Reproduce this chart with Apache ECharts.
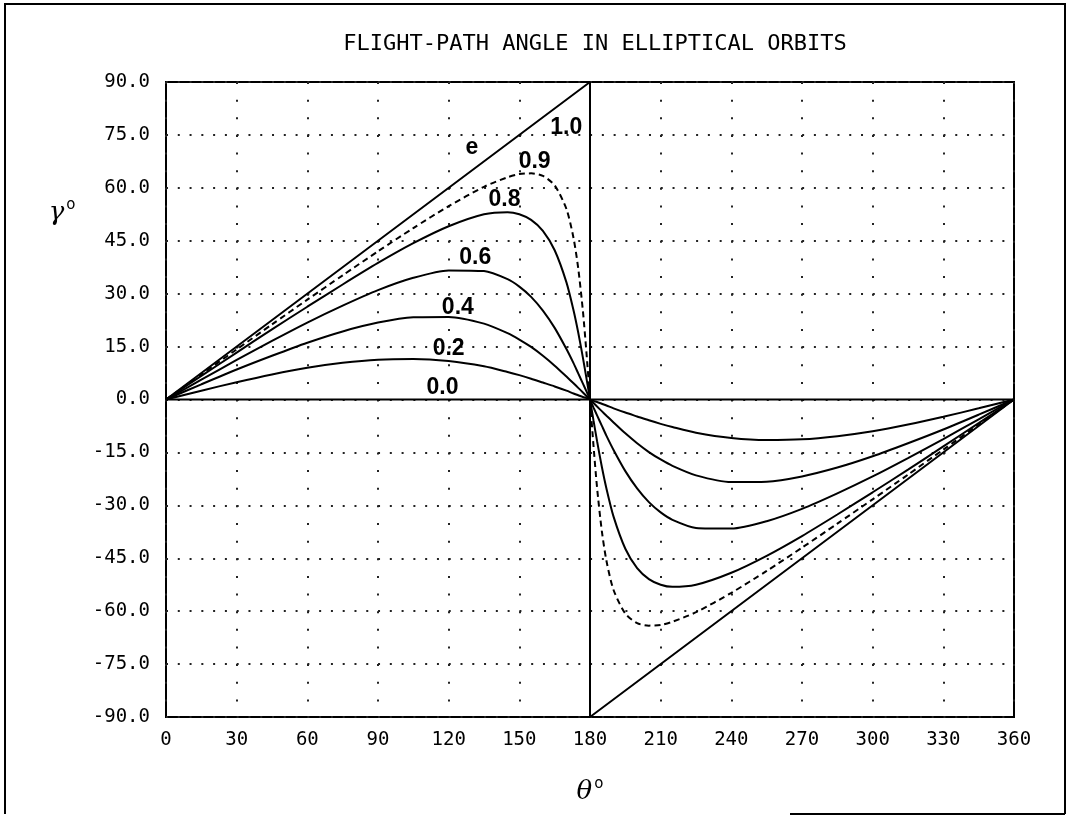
<!DOCTYPE html>
<html><head><meta charset="utf-8">
<script src="https://cdn.jsdelivr.net/npm/echarts@6/dist/echarts.min.js"></script>
<style>html,body{margin:0;padding:0;background:#fff}#c{width:1069px;height:816px}</style>
</head><body><div id="c"></div>
<script>
// true anomaly θ (deg)
const theta = [0,15,30,45,60,75,90,105,120,135,145,150,155,160,165,170,173,175,177,178.5,180,
  181.5,183,185,187,190,195,200,205,210,215,225,240,255,270,285,300,315,330,345,360];
// flight-path angle γ (deg), per eccentricity
const gammaE02 = [0,2.5,4.9,7.1,9.0,10.4,11.3,11.5,10.9,9.4,7.8,6.9,5.9,4.8,3.7,2.5,1.7,1.2,0.7,0.4,0,
  -0.4,-0.7,-1.2,-1.7,-2.5,-3.7,-4.8,-5.9,-6.9,-7.8,-9.4,-10.9,-11.5,-11.3,-10.4,-9.0,-7.1,-4.9,-2.5,0];
const gammaE04 = [0,4.3,8.5,12.4,16.1,19.3,21.8,23.3,23.4,21.5,18.8,17.0,14.9,12.4,9.6,6.5,4.6,3.3,2.0,1.0,0,
  -1.0,-2.0,-3.3,-4.6,-6.5,-9.6,-12.4,-14.9,-17.0,-18.8,-21.5,-23.4,-23.3,-21.8,-19.3,-16.1,-12.4,-8.5,-4.3,0];
const gammaE06 = [0,5.6,11.2,16.6,21.8,26.6,31.0,34.5,36.6,36.4,34.1,32.0,29.1,25.2,20.3,14.3,10.3,7.4,4.5,2.3,0,
  -2.3,-4.5,-7.4,-10.3,-14.3,-20.3,-25.2,-29.1,-32.0,-34.1,-36.4,-36.6,-34.5,-31.0,-26.6,-21.8,-16.6,-11.2,-5.6,0];
const gammaE08 = [0,6.7,13.3,19.9,26.3,32.6,38.7,44.3,49.1,52.5,53.1,52.5,50.9,47.8,42.3,33.2,25.3,19.0,11.8,6.0,0,
  -6.0,-11.8,-19.0,-25.3,-33.2,-42.3,-47.8,-50.9,-52.5,-53.1,-52.5,-49.1,-44.3,-38.7,-32.6,-26.3,-19.9,-13.3,-6.7,0];
const gammaE09 = [0,7.1,14.2,21.3,28.3,35.2,42.0,48.6,54.8,60.3,63.0,63.9,64.1,63.4,60.7,54.0,45.8,37.2,25.0,13.2,0,
  -13.2,-25.0,-37.2,-45.8,-54.0,-60.7,-63.4,-64.1,-63.9,-63.0,-60.3,-54.8,-48.6,-42.0,-35.2,-28.3,-21.3,-14.2,-7.1,0];
const thetaE00 = [0, 360];
const gammaE00 = [0, 0];
const thetaE10 = [0, 180, 180, 360];
const gammaE10 = [0, 90, -90, 0];
// curve annotations: [text, θ, γ]
const curveLabels = [
  ['1.0', 170.1, 76.9], ['e', 130.1, 71.2], ['0.9', 156.7, 67.4], ['0.8', 143.9, 56.6],
  ['0.6', 131.5, 40.2], ['0.4', 124.1, 25.9], ['0.2', 120.2, 14.4], ['0.0', 117.6, 3.3]
];
const titleText = 'FLIGHT-PATH ANGLE IN ELLIPTICAL ORBITS';

const zip = (xs, ys) => xs.map((x, i) => [x, ys[i]]);
const lineBase = { type: 'line', symbol: 'none', silent: true, z: 3,
  lineStyle: { color: '#000', width: 2 } };
const smoothLine = (ys, extra) => Object.assign({}, lineBase, {
  data: zip(theta, ys), smooth: 0.25 }, extra || {});

const chart = echarts.init(document.getElementById('c'), null, { renderer: 'canvas' });
const plotFont = 'DejaVu Sans Mono';
chart.setOption({
  backgroundColor: '#fff',
  animation: false,
  title: { text: titleText, left: 590, top: 28, textAlign: 'center',
    textStyle: { fontFamily: plotFont, fontSize: 22, fontWeight: 'normal', color: '#000' } },
  grid: { left: 166, right: 55, top: 82, bottom: 99, show: true,
    borderColor: '#000', borderWidth: 2, backgroundColor: 'transparent' },
  xAxis: { type: 'value', min: 0, max: 360, interval: 30,
    axisLine: { show: false }, axisTick: { show: false },
    axisLabel: { fontFamily: plotFont, fontSize: 19, color: '#000', margin: 14 },
    splitLine: { show: true, lineStyle: { color: '#222', width: 2, type: [2, 15.64] } },
    name: '{t|θ}{o|o}', nameLocation: 'middle', nameGap: 60,
    nameTextStyle: { rich: {
      t: { fontFamily: 'DejaVu Serif', fontStyle: 'italic', fontSize: 26, color: '#000' },
      o: { fontFamily: 'DejaVu Sans', fontSize: 15, color: '#000', verticalAlign: 'top', padding: [0, 0, 16, 2] } } } },
  yAxis: { type: 'value', min: -90, max: 90, interval: 15,
    axisLine: { show: false }, axisTick: { show: false },
    axisLabel: { fontFamily: plotFont, fontSize: 19, color: '#000', margin: 16,
      formatter: v => v.toFixed(1) },
    splitLine: { show: true, lineStyle: { color: '#222', width: 2, type: [2, 9.78] } } },
  graphic: [
    { type: 'polyline', silent: true, shape: { points: [[5, 814], [5, 4], [1065, 4], [1065, 814]] },
      style: { stroke: '#000', lineWidth: 2, fill: null } },
    { type: 'line', silent: true, shape: { x1: 790, y1: 814, x2: 1065, y2: 814 },
      style: { stroke: '#000', lineWidth: 2 } },
    { type: 'text', silent: true, x: 62, y: 213,
      style: { text: '{g|γ}{o|o}', align: 'center', verticalAlign: 'middle',
        rich: { g: { fontFamily: 'DejaVu Serif', fontStyle: 'italic', fontSize: 26, fill: '#000' },
                o: { fontFamily: 'DejaVu Sans', fontSize: 15, fill: '#000', verticalAlign: 'top', padding: [0, 0, 16, 2] } } } }
  ],
  series: [
    Object.assign({}, lineBase, { name: 'e=0.0', data: zip(thetaE00, gammaE00) }),
    smoothLine(gammaE02, { name: 'e=0.2' }),
    smoothLine(gammaE04, { name: 'e=0.4' }),
    smoothLine(gammaE06, { name: 'e=0.6' }),
    smoothLine(gammaE08, { name: 'e=0.8' }),
    smoothLine(gammaE09, { name: 'e=0.9', lineStyle: { color: '#000', width: 2, type: [6, 4] } }),
    Object.assign({}, lineBase, { name: 'e=1.0', data: zip(thetaE10, gammaE10) }),
    { type: 'scatter', name: 'labels', silent: true, symbol: 'circle', symbolSize: 1, z: 5,
      itemStyle: { color: '#000', opacity: 0 },
      data: curveLabels.map(d => [d[1], d[2], d[0]]),
      label: { show: true, position: [0, 0], align: 'center', verticalAlign: 'middle',
        formatter: p => p.value[2], opacity: 1,
        fontFamily: 'Liberation Sans', fontSize: 23, fontWeight: 'bold', color: '#000000',
        textBorderWidth: 0 } }
  ]
});
</script></body></html>
